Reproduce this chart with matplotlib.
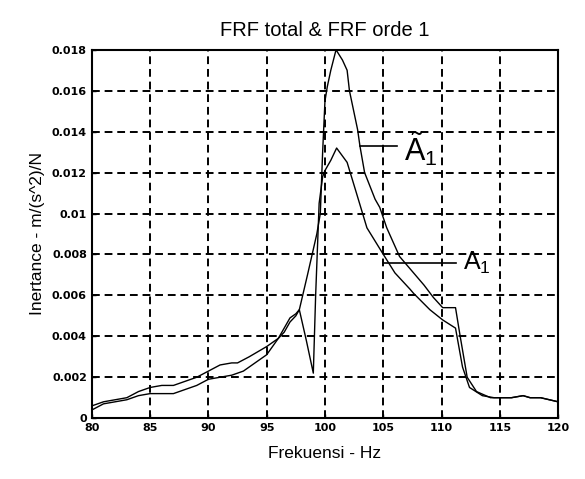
import numpy as np
import matplotlib
matplotlib.use("Agg")
from matplotlib import pyplot as plt
from matplotlib.ticker import FuncFormatter

plt.rcParams['mathtext.fontset'] = 'custom'
plt.rcParams['mathtext.rm'] = 'Liberation Sans'
plt.rcParams['mathtext.it'] = 'Liberation Sans'

# FRF total (upper peak)
freq_total = [80, 81, 82, 83, 84, 85, 86, 87, 88, 89, 90, 91, 92, 92.5, 93.5, 95, 96, 96.5,
              97, 97.5, 97.8, 98.5, 99.3, 99.6, 99.8, 100.0, 100.2, 100.5, 100.95, 101.5,
              101.9, 102.1, 102.8, 103.0, 103.4, 104.3, 104.7, 105.3, 106.4, 107.6, 108.5,
              109.3, 110.1, 111.2, 111.6, 112.2, 113.0, 114.2, 115, 116, 117, 117.6, 118.5, 120]
inert_total = [0.0006, 0.0008, 0.0009, 0.0010, 0.0013, 0.0015, 0.0016, 0.0016, 0.0018, 0.0020,
               0.0023, 0.0026, 0.0027, 0.0027, 0.0030, 0.0035, 0.0039, 0.0042, 0.0047, 0.0050,
               0.0053, 0.0070, 0.0090, 0.0100, 0.0130, 0.0155, 0.0162, 0.0170, 0.0180, 0.0175,
               0.0170, 0.0160, 0.0141, 0.0133, 0.0120, 0.0107, 0.0103, 0.0093, 0.0079, 0.0071,
               0.0065, 0.0059, 0.0054, 0.0054, 0.0040, 0.0020, 0.0013, 0.0010, 0.0010, 0.0010,
               0.0011, 0.0010, 0.0010, 0.0008]

# FRF orde 1
freq_ord1 = [80, 81, 82, 83, 84, 85, 86, 87, 88, 89, 90, 91, 92, 93, 94, 95, 96, 96.5, 97,
             97.5, 97.8, 98.4, 99.0, 99.2, 99.5, 99.8, 100.0, 100.5, 101.0, 101.9, 102.7,
             103.6, 104.9, 106, 107.3, 107.6, 109, 110.1, 111.2, 111.8, 112.4, 113.5, 114.5,
             115, 116, 117, 117.6, 118.5, 120]
inert_ord1 = [0.0004, 0.0007, 0.0008, 0.0009, 0.0011, 0.0012, 0.0012, 0.0012, 0.0014, 0.0016,
              0.0019, 0.0020, 0.0021, 0.0023, 0.0027, 0.0031, 0.0039, 0.0044, 0.0049, 0.0051,
              0.0053, 0.0038, 0.0022, 0.0060, 0.0105, 0.0118, 0.0121, 0.0126, 0.0132, 0.0125,
              0.0110, 0.0093, 0.0081, 0.0071, 0.0063, 0.0061, 0.0053, 0.0048, 0.0044, 0.0025,
              0.0015, 0.0011, 0.0010, 0.0010, 0.0010, 0.0011, 0.0010, 0.0010, 0.0008]

xticks = [80, 85, 90, 95, 100, 105, 110, 115, 120]
yticks = [0, 0.002, 0.004, 0.006, 0.008, 0.01, 0.012, 0.014, 0.016, 0.018]

fig = plt.figure(figsize=(5.85, 4.79), dpi=100)
ax = fig.add_axes([0.157, 0.127, 0.797, 0.769])

ax.plot(freq_total, inert_total, color="black", linewidth=1.0)
ax.plot(freq_ord1, inert_ord1, color="black", linewidth=1.0)

ax.set_xlim(80, 120)
ax.set_ylim(0, 0.018)
ax.set_xticks(xticks)
ax.set_yticks(yticks)
ax.yaxis.set_major_formatter(FuncFormatter(lambda v, p: "0" if v == 0 else "%g" % v))
ax.tick_params(direction="in", length=3, labelsize=8, width=1)
for lab in ax.get_xticklabels() + ax.get_yticklabels():
    lab.set_fontweight("bold")
ax.grid(True, color="black", linestyle=(0, (4, 2.5)), linewidth=1.4)
for s in ax.spines.values():
    s.set_linewidth(1.5)

# leader lines and labels
ax.plot([103.0, 106.2], [0.0133, 0.0133], color="black", linewidth=1.2)
ax.text(106.8, 0.0132, r"$\tilde{\mathrm{A}}_{1}$", fontsize=22, va="center", ha="left",
        family="Liberation Sans")
ax.plot([105.0, 111.2], [0.0076, 0.0076], color="black", linewidth=1.2)
ax.text(111.8, 0.0076, r"$\mathrm{A}_{1}$", fontsize=18, va="center", ha="left",
        family="Liberation Sans")

ax.set_title("FRF total & FRF orde 1", fontsize=14.5, family="Liberation Sans", pad=10)
ax.set_xlabel("Frekuensi - Hz", fontsize=12.5, family="Liberation Sans", labelpad=9)
ax.set_ylabel("Inertance - m/(s^2)/N", fontsize=12.5, family="Liberation Sans", labelpad=5)

plt.savefig("out.png", dpi=100)
